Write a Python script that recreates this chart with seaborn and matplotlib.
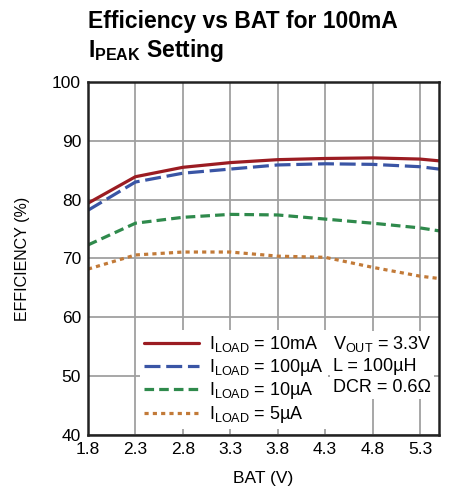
import matplotlib
matplotlib.use("Agg")
import matplotlib.pyplot as plt
from matplotlib import font_manager
import numpy as np
import pandas as pd
import seaborn as sns

bat = [1.8, 2.3, 2.8, 3.3, 3.8, 4.3, 4.8, 5.3, 5.5]
eff_10ma = [79.4, 83.9, 85.5, 86.3, 86.8, 87.0, 87.1, 86.9, 86.6]
eff_100ua = [78.2, 83.0, 84.5, 85.2, 85.9, 86.1, 86.0, 85.6, 85.2]
eff_10ua = [72.3, 76.0, 77.0, 77.5, 77.4, 76.7, 76.0, 75.2, 74.7]
eff_5ua = [68.2, 70.6, 71.1, 71.1, 70.4, 70.2, 68.5, 67.0, 66.6]

labels = [r"I$_{\mathrm{LOAD}}$ = 10mA", r"I$_{\mathrm{LOAD}}$ = 100µA",
          r"I$_{\mathrm{LOAD}}$ = 10µA", r"I$_{\mathrm{LOAD}}$ = 5µA"]
colors = ["#9b1c22", "#3a55a5", "#2f8a4c", "#c27a38"]
styles = ["-", (0, (5, 1.8)), (0, (3, 1.6)), (0, (1.3, 1.3))]
x_ticks = [1.8, 2.3, 2.8, 3.3, 3.8, 4.3, 4.8, 5.3]
y_ticks = [40, 50, 60, 70, 80, 90, 100]

sns.set_theme(style="white")
names = {f.name for f in font_manager.fontManager.ttflist}
fam = "Liberation Sans Narrow" if "Liberation Sans Narrow" in names else "Liberation Sans"
plt.rcParams["font.family"] = [fam, "DejaVu Sans"]
plt.rcParams["mathtext.fontset"] = "custom"
plt.rcParams["mathtext.rm"] = fam
plt.rcParams["mathtext.bf"] = fam + ":bold"
plt.rcParams["text.color"] = "black"
plt.rcParams["axes.labelcolor"] = "black"

df = pd.DataFrame({"bat": bat, "a": eff_10ma, "b": eff_100ua, "c": eff_10ua, "d": eff_5ua})

fig = plt.figure(figsize=(4.69, 4.91), dpi=100)
ax = fig.add_axes([88 / 469, 1 - 435 / 491, 351 / 469, 353 / 491])

for col, lab, c, ls in zip(["a", "b", "c", "d"], labels, colors, styles):
    sns.lineplot(data=df, x="bat", y=col, ax=ax, color=c, linestyle=ls, lw=2.3, label=lab)

ax.set_xlim(1.8, 5.5)
ax.set_ylim(40, 100)
ax.set_xticks(x_ticks)
ax.set_yticks(y_ticks)
ax.grid(True, color="#a0a0a0", lw=1.3)
ax.set_axisbelow(True)
ax.tick_params(length=0, labelsize=12.5, colors="black", pad=5)
for s in ax.spines.values():
    s.set_color("#222222")
    s.set_linewidth(1.8)
ax.set_xlabel("BAT (V)", fontsize=12.5, labelpad=10)
ax.set_ylabel("EFFICIENCY (%)", fontsize=11.5, labelpad=16)

leg = ax.legend(loc="upper left", bbox_to_anchor=(0.148, 0.298), borderaxespad=0,
                fontsize=13, handlelength=3.0, handletextpad=0.55, labelspacing=0.14,
                frameon=True, fancybox=False, framealpha=1, borderpad=0.25)
leg.get_frame().set_facecolor("white")
leg.get_frame().set_edgecolor("none")
for t in leg.get_texts():
    t.set_color("black")

ax.text(0.697, 0.285, "V$_{\\mathrm{OUT}}$ = 3.3V\nL = 100µH\nDCR = 0.6Ω", transform=ax.transAxes,
        fontsize=13, va="top", ha="left", linespacing=1.3, color="black",
        bbox=dict(facecolor="white", edgecolor="none", pad=2))

fig.text(88 / 469, 1 - 10 / 491, "Efficiency vs BAT for 100mA\nI$_{\\mathbf{PEAK}}$ Setting",
         fontsize=16.5, fontweight="bold", va="top", ha="left", linespacing=1.2, color="black")

fig.savefig("out.png", dpi=100)
